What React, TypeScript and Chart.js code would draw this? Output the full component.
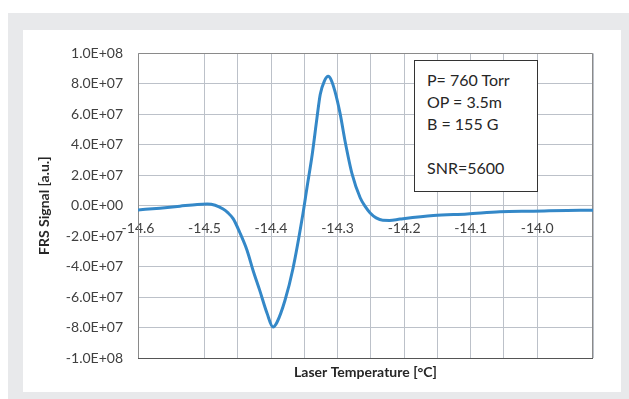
import { useEffect, useRef } from "react";
import { Chart, registerables } from "chart.js";

Chart.register(...registerables);

// Laser temperature [°C]
const temperatures = [
  -14.6, -14.567, -14.537, -14.511, -14.496, -14.484, -14.472, -14.465, -14.457, -14.447,
  -14.436, -14.427, -14.417, -14.406, -14.397, -14.391, -14.379, -14.367, -14.353, -14.346,
  -14.338, -14.331, -14.326, -14.32, -14.314, -14.31, -14.304, -14.296, -14.289, -14.278,
  -14.266, -14.258, -14.251, -14.242, -14.232, -14.222, -14.206, -14.156, -14.105, -14.056,
  -14.006, -13.935, -13.916,
];

// FRS signal [a.u.], in units of 1e6
const signalMillions = [
  -2.8, -1.6, -0.3, 0.8, 1.1, 0.3, -2.2, -4.6, -8.5, -17.6,
  -29.4, -42.5, -55.6, -70.6, -79.7, -76.5, -62.1, -41.2, -7.8, 11.8,
  34.0, 57.5, 73.2, 81.7, 85.0, 83.0, 75.2, 60.1, 43.0, 20.5,
  5.2, -0.8, -4.8, -8.0, -9.6, -9.7, -8.8, -6.5, -5.4, -4.0,
  -3.6, -3.0, -3.0,
];

const xMin = -14.6;
const xMax = -13.916;
const xStep = 0.05;
const yMin = -1e8;
const yMax = 1e8;
const yStep = 2e7;

const annotationLines = ["P= 760 Torr", "OP = 3.5m", "B = 155 G", "", "SNR=5600"];

const FONT = "Lato, 'Noto Sans', sans-serif";

function formatExp(v: number): string {
  if (Math.abs(v) < 1e-6) return "0.0E+00";
  const s = v.toExponential(1); // e.g. -2.0e+7
  const [mant, exp] = s.split("e");
  const sign = exp[0] === "-" ? "-" : "+";
  const digits = exp.replace(/[+-]/, "").padStart(2, "0");
  return `${mant}E${sign}${digits}`;
}

const plotBorder = {
  id: "plotBorder",
  beforeDatasetsDraw(chart: any) {
    const { ctx, chartArea } = chart;
    const { left, top, right, bottom } = chartArea;
    ctx.save();
    ctx.lineWidth = 1;
    ctx.strokeStyle = "#8a8a8a";
    ctx.beginPath();
    ctx.moveTo(Math.round(left) + 0.5, Math.round(bottom) + 0.5);
    ctx.lineTo(Math.round(left) + 0.5, Math.round(top) + 0.5);
    ctx.lineTo(Math.round(right) - 0.5, Math.round(top) + 0.5);
    ctx.lineTo(Math.round(right) - 0.5, Math.round(bottom) + 0.5);
    ctx.stroke();
    ctx.strokeStyle = "#555555";
    ctx.beginPath();
    ctx.moveTo(Math.round(left), Math.round(bottom) + 0.5);
    ctx.lineTo(Math.round(right), Math.round(bottom) + 0.5);
    ctx.stroke();
    ctx.restore();
  },
};

export default function App() {
  const canvasRef = useRef<HTMLCanvasElement | null>(null);

  useEffect(() => {
    if (!canvasRef.current) return;
    const data = temperatures.map((t, i) => ({ x: t, y: signalMillions[i] * 1e6 }));
    const chart = new Chart(canvasRef.current, {
      type: "line",
      data: {
        datasets: [
          {
            data,
            borderColor: "#3488c8",
            borderWidth: 3,
            pointRadius: 0,
            fill: false,
            cubicInterpolationMode: "monotone",
          },
        ],
      },
      options: {
        animation: false,
        responsive: true,
        maintainAspectRatio: false,
        layout: { padding: { top: 22, right: 28, left: 0, bottom: 0 } },
        plugins: { legend: { display: false }, tooltip: { enabled: false } },
        scales: {
          x: {
            type: "linear",
            position: { y: 0 } as any,
            min: xMin,
            max: xMax,
            ticks: {
              stepSize: xStep,
              autoSkip: false,
              maxRotation: 0,
              padding: 14,
              color: "#404040",
              font: { family: FONT, size: 14 },
              callback: (value: any) => {
                const v = Math.round(Number(value) * 100);
                return v % 10 === 0 ? (v / 100).toFixed(1) : "";
              },
            },
            grid: { color: "#bcc1c9", lineWidth: 1, drawTicks: false },
            border: { display: false },
          },
          xTitle: {
            type: "linear",
            position: "bottom",
            min: 0,
            max: 1,
            ticks: { display: false },
            grid: { display: false, drawTicks: false },
            border: { display: false },
            title: {
              display: true,
              text: "Laser Temperature [°C]",
              color: "#262626",
              font: { family: FONT, size: 14, weight: "bold" },
              padding: { top: 0, bottom: 11 },
            },
            afterFit: (scale: any) => {
              scale.height = 34;
            },
          },
          y: {
            type: "linear",
            min: yMin,
            max: yMax,
            ticks: {
              stepSize: yStep,
              padding: 15,
              color: "#404040",
              font: { family: FONT, size: 14 },
              callback: (value: any) => formatExp(Number(value)),
            },
            grid: { color: "#bcc1c9", lineWidth: 1, drawTicks: false },
            border: { display: false },
            title: {
              display: true,
              text: "FRS Signal [a.u.]",
              color: "#262626",
              font: { family: FONT, size: 14, weight: "bold" },
              padding: { top: 13, bottom: 0 },
            },
            afterFit: (scale: any) => {
              scale.width = 115;
            },
          },
        },
      },
      plugins: [plotBorder],
    });
    return () => chart.destroy();
  }, []);

  return (
    <div
      style={{
        position: "absolute",
        left: 8,
        top: 13,
        width: 621,
        height: 386,
        background: "#e8e9eb",
      }}
    >
      <div
        style={{
          position: "absolute",
          left: 15,
          top: 17,
          width: 598,
          height: 362,
          background: "#ffffff",
        }}
      >
        <canvas ref={canvasRef} />
        <div
          style={{
            position: "absolute",
            left: 414 - 23,
            top: 60 - 30,
            width: 124,
            height: 132,
            boxSizing: "border-box",
            border: "1.5px solid #333333",
            background: "#ffffff",
            padding: "8px 0 0 12px",
            fontFamily: FONT,
            fontSize: 16,
            lineHeight: "22px",
            color: "#262626",
          }}
        >
          {annotationLines.map((line, i) => (
            <div key={i} style={{ height: 22, whiteSpace: "nowrap" }}>
              {line}
            </div>
          ))}
        </div>
      </div>
    </div>
  );
}
